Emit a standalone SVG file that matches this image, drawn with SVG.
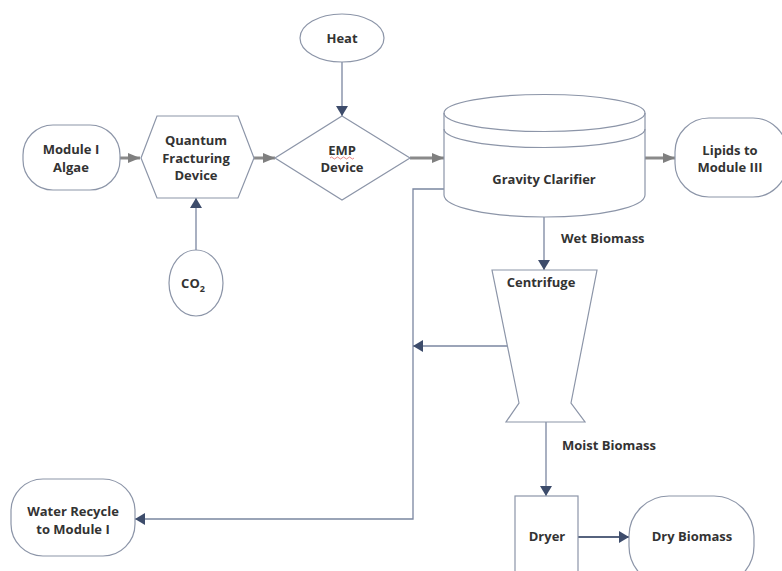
<svg xmlns="http://www.w3.org/2000/svg" width="782" height="571" viewBox="0 0 782 571">
<defs>
<style>
.shape{fill:#ffffff;stroke:#8c95a8;stroke-width:1.2}
.lbl{font-family:"Open Sans","Liberation Sans",sans-serif;font-size:13px;font-weight:700;fill:#333333;text-anchor:middle}
.edge-lbl{font-family:"Open Sans","Liberation Sans",sans-serif;font-size:13px;font-weight:700;fill:#333333}
.gray{fill:none;stroke:#8a8a8a;stroke-width:3}
.navy{fill:none;stroke:#7a86a0;stroke-width:1.3}
.navy2{fill:none;stroke:#56637e;stroke-width:2}
</style>
<marker id="ag" markerWidth="12" markerHeight="10" refX="12" refY="5" orient="auto" markerUnits="userSpaceOnUse">
<path d="M0,0 L12,5 L0,10 Z" fill="#7f7f7f"/>
</marker>
<marker id="an" markerWidth="10" markerHeight="12" refX="10" refY="6" orient="auto" markerUnits="userSpaceOnUse">
<path d="M0,0 L10,6 L0,12 Z" fill="#3d4c6b"/>
</marker>
</defs>
<rect width="782" height="571" fill="#ffffff"/>

<g id="connectors">
<line class="gray" x1="120" y1="158" x2="140" y2="158" marker-end="url(#ag)"/>
<line class="gray" x1="254" y1="158" x2="275" y2="158" marker-end="url(#ag)"/>
<line class="gray" x1="410" y1="158" x2="444" y2="158" marker-end="url(#ag)"/>
<line class="gray" x1="645" y1="158" x2="675" y2="158" marker-end="url(#ag)"/>
<line class="navy" x1="342" y1="62" x2="342" y2="116" marker-end="url(#an)"/>
<line class="navy" x1="196" y1="250" x2="196" y2="198" marker-end="url(#an)"/>
<line class="navy" x1="544" y1="217" x2="544" y2="270" marker-end="url(#an)"/>
<line class="navy" x1="546" y1="422" x2="546" y2="496" marker-end="url(#an)"/>
<line class="navy2" x1="578" y1="537" x2="629" y2="537" marker-end="url(#an)"/>
<polyline class="navy" points="444,189 413,189 413,519 135,519" marker-end="url(#an)"/>
<line class="navy" x1="507" y1="346" x2="413" y2="346" marker-end="url(#an)"/>
<text class="edge-lbl" x="561" y="243">Wet Biomass</text>
<text class="edge-lbl" x="562" y="450" font-weight="600">Moist Biomass</text>
</g>

<g id="module1">
<rect class="shape" x="23" y="125" width="97" height="65" rx="30" ry="30"/>
<text class="lbl" x="71" y="154">Module I</text>
<text class="lbl" x="71" y="172">Algae</text>
</g>

<g id="quantum">
<polygon class="shape" points="157,116 238,116 254,158 238,198 157,198 141,158"/>
<text class="lbl" x="196" y="145">Quantum</text>
<text class="lbl" x="196" y="163">Fracturing</text>
<text class="lbl" x="196" y="180">Device</text>
</g>

<g id="heat">
<ellipse class="shape" cx="342" cy="38" rx="42" ry="24"/>
<text class="lbl" x="342" y="43">Heat</text>
</g>

<g id="emp">
<polygon class="shape" points="342,116 410,158 342,200 275,158"/>
<text class="lbl" x="342" y="155">EMP</text>
<path d="M330,158 q1.5,-2 3,0 t3,0 t3,0 t3,0 t3,0 t3,0 t3,0 t3,0" fill="none" stroke="#e05050" stroke-width="0.7"/>
<text class="lbl" x="342" y="172">Device</text>
</g>

<g id="co2">
<ellipse class="shape" cx="196" cy="283" rx="27" ry="33"/>
<text class="lbl" x="193" y="288">CO<tspan font-size="9" dy="4">2</tspan></text>
</g>

<g id="clarifier">
<path class="shape" d="M444,113 A100.5,18.5 0 0 1 645,113 L645,195 A100.5,22 0 0 1 444,195 Z"/>
<path fill="none" stroke="#8c95a8" stroke-width="1.2" d="M444,113 A100.5,18.5 0 0 0 645,113"/>
<path fill="none" stroke="#8c95a8" stroke-width="1.2" d="M444,129 A100.5,18.5 0 0 0 645,129"/>
<text class="lbl" x="544" y="184" font-weight="600">Gravity Clarifier</text>
</g>

<g id="lipids">
<rect class="shape" x="675" y="118" width="112" height="79" rx="34" ry="34"/>
<text class="lbl" x="730" y="155">Lipids to</text>
<text class="lbl" x="730" y="172">Module III</text>
</g>

<g id="centrifuge">
<polygon class="shape" points="492,270 597,270 571,403 585,422 506,422 519,403"/>
<text class="lbl" x="541" y="287">Centrifuge</text>
</g>

<g id="water">
<rect class="shape" x="11" y="479" width="124" height="77" rx="32" ry="32"/>
<text class="lbl" x="73" y="516">Water Recycle</text>
<text class="lbl" x="73" y="534">to Module I</text>
</g>

<g id="dryer">
<rect class="shape" x="515" y="496" width="63" height="90"/>
<text class="lbl" x="547" y="541">Dryer</text>
</g>

<g id="drybiomass">
<rect class="shape" x="629" y="496" width="125" height="90" rx="40" ry="40"/>
<text class="lbl" x="692" y="541">Dry Biomass</text>
</g>
</svg>
